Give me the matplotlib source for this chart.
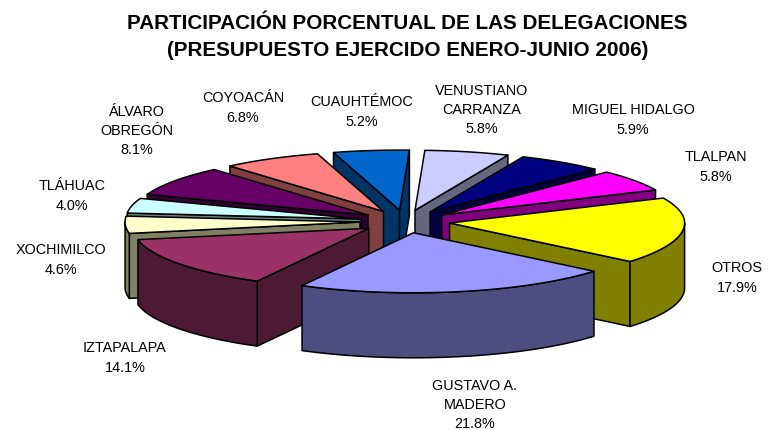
import numpy as np
import matplotlib
matplotlib.use('Agg')
import matplotlib.pyplot as plt
from matplotlib.patches import Polygon

plt.rcParams['font.family'] = ['Liberation Sans', 'DejaVu Sans']

title = 'PARTICIPACIÓN PORCENTUAL DE LAS DELEGACIONES\n(PRESUPUESTO EJERCIDO ENERO-JUNIO 2006)'

# clockwise from the start angle
names = ['OTROS', 'GUSTAVO A.\nMADERO', 'IZTAPALAPA', 'XOCHIMILCO', 'TLÁHUAC', 'ÁLVARO\nOBREGÓN',
         'COYOACÁN', 'CUAUHTÉMOC', 'VENUSTIANO\nCARRANZA', 'MIGUEL HIDALGO', 'TLALPAN']
values = [17.9, 21.8, 14.1, 4.6, 4.0, 8.1, 6.8, 5.2, 5.8, 5.9, 5.8]
top_colors = ['#FFFF00', '#9999FF', '#993366', '#FFFFCC', '#CCFFFF', '#660066',
              '#FF8080', '#0066CC', '#CCCCFF', '#000080', '#FF00FF']
side_colors = ['#808000', '#4D4D80', '#4D1A33', '#808066', '#668080', '#330033',
               '#804040', '#003366', '#666680', '#000040', '#800080']

label_x = [737, 475, 125, 61, 72, 137, 243, 362, 482, 633, 716]
label_y = [278, 405, 358, 260, 196, 131, 108, 112, 110, 120, 167]

# pie geometry, in pixels of the picture
cx, cy = 405, 222.5
a, b = 235, 60
depth = 65
explode = 45 / 235
start_angle = 24.6


def ellipse(theta, x0, y0):
    return x0 + a * np.cos(theta), y0 - b * np.sin(theta)


def add_poly(ax, xs, ys, color, z):
    ax.add_patch(Polygon(np.column_stack([xs, ys]), closed=True, facecolor=color,
                         edgecolor='black', linewidth=1.1, joinstyle='round', zorder=z))


def draw_wall(ax, w1, w2, x0, y0, side, z):
    if w1 > w2:
        th = np.radians(np.linspace(w1, w2, 60))
        ex, ey = ellipse(th, x0, y0)
        add_poly(ax, np.r_[ex, ex[::-1]], np.r_[ey, ey[::-1] + depth], side, z)


def draw_slice(ax, t1, t2, top, side, z):
    # t1 > t2, going clockwise, degrees
    mid = np.radians((t1 + t2) / 2)
    x0, y0 = ellipse(mid, cx, cy)
    x0 = cx + (x0 - cx) * explode
    y0 = cy + (y0 - cy) * explode

    # radial faces that look towards the viewer
    for t, normal in ((t1, t1 + 90), (t2, t2 - 90)):
        if np.sin(np.radians(normal)) < 0:
            ex, ey = ellipse(np.radians(t), x0, y0)
            add_poly(ax, [x0, ex, ex, x0], [y0, ey, ey + depth, y0 + depth], side, z)

    # outer wall, only the front half of the ellipse shows
    draw_wall(ax, min(t1, 0), max(t2, -180), x0, y0, side, z)
    draw_wall(ax, min(t1, -360), max(t2, -540), x0, y0, side, z)

    th = np.radians(np.linspace(t1, t2, 60))
    ex, ey = ellipse(th, x0, y0)
    add_poly(ax, np.r_[x0, ex], np.r_[y0, ey], top, z + 0.5)


fig = plt.figure(figsize=(7.71, 4.31), dpi=100)
ax = fig.add_axes([0, 0, 1, 1])
ax.set_xlim(0, 771)
ax.set_ylim(431, 0)
ax.axis('off')

edges = start_angle - np.cumsum([0] + values) * 3.6
mids = (edges[:-1] + edges[1:]) / 2
order = np.argsort(-np.sin(np.radians(mids)))
for z, i in enumerate(order):
    draw_slice(ax, edges[i], edges[i + 1], top_colors[i], side_colors[i], 2 + z)

for name, v, x, y in zip(names, values, label_x, label_y):
    ax.text(x, y, f'{name}\n{v:.1f}%', ha='center', va='center', fontsize=10.4,
            color='black', linespacing=1.48)

ax.text(407.5, 37, title, ha='center', va='center', fontsize=14.9, fontweight='bold',
        color='black', linespacing=1.52)

fig.savefig('out.png', dpi=100)
